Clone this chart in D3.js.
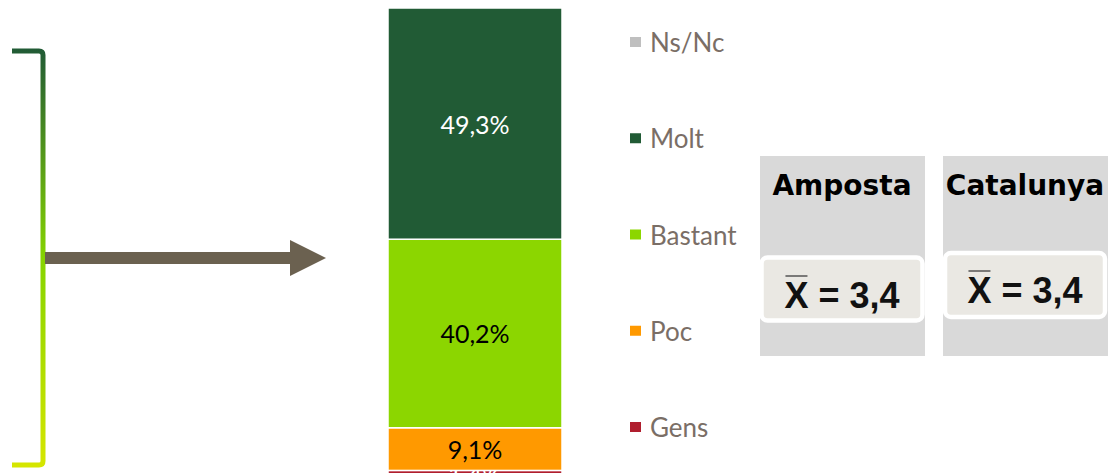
<!DOCTYPE html>
<html>
<head>
<meta charset="utf-8">
<script src="https://d3js.org/d3.v7.min.js"></script>
<style>
  body { margin: 0; background: #fff; overflow: hidden; }
  text { font-family: "Lato", "DejaVu Sans", sans-serif; }
</style>
</head>
<body>
<script>
// ---- data ----
var categories = ["Gens", "Poc", "Bastant", "Molt", "Ns/Nc"];   // bottom to top
var values     = [1.4, 9.1, 40.2, 49.3, 0];
var colors     = ["#b01e2e", "#ff9900", "#8cd600", "#215b35", "#bfbfbf"];
var labelColor = ["#ffffff", "#000000", "#000000", "#ffffff", "#000000"];
var legendOrder = ["Ns/Nc", "Molt", "Bastant", "Poc", "Gens"];
var places = ["Amposta", "Catalunya"];
var means  = ["3,4", "3,4"];

var width = 1109, height = 473;

var svg = d3.select("body").append("svg")
    .attr("width", width)
    .attr("height", height);

// gradient for the bracket
var defs = svg.append("defs");
var grad = defs.append("linearGradient")
    .attr("id", "brk").attr("gradientUnits", "userSpaceOnUse")
    .attr("x1", 0).attr("y1", 50).attr("x2", 0).attr("y2", 468);
grad.append("stop").attr("offset", "0%").attr("stop-color", "#215b35");
grad.append("stop").attr("offset", "50%").attr("stop-color", "#86d400");
grad.append("stop").attr("offset", "100%").attr("stop-color", "#d6e600");

// bracket
svg.append("path")
    .attr("d", "M12,51 L39,51 Q43,51 43,55 L43,461 Q43,465 39,465 L12,465")
    .attr("fill", "none")
    .attr("stroke", "url(#brk)")
    .attr("stroke-width", 5);

// arrow
svg.append("rect").attr("x", 45).attr("y", 252).attr("width", 247).attr("height", 12).attr("fill", "#6b6150");
svg.append("path").attr("d", "M290,240 L326,258 L290,276 Z").attr("fill", "#6b6150");

// ---- stacked bar ----
var rows = [{}];
categories.forEach(function(c, i) { rows[0][c] = values[i]; });
var stack = d3.stack().keys(categories)(rows);

var x = d3.scaleBand().domain(["total"]).range([388, 562]).padding(0);
var y = d3.scaleLinear().domain([0, 100]).range([477, 8]);

var seg = svg.append("g").selectAll("g")
    .data(stack)
    .join("g");

seg.append("rect")
    .attr("x", x("total"))
    .attr("width", x.bandwidth())
    .attr("y", function(d) { return y(d[0][1]); })
    .attr("height", function(d) { return Math.max(0, y(d[0][0]) - y(d[0][1])); })
    .attr("fill", function(d, i) { return colors[i]; })
    .attr("stroke", "#fff")
    .attr("stroke-width", function(d) { return d[0][1] - d[0][0] > 0 ? 1.5 : 0; });

seg.filter(function(d) { return d[0][1] - d[0][0] > 0; })
    .append("text")
    .attr("x", x("total") + x.bandwidth() / 2)
    .attr("y", function(d) { return (y(d[0][0]) + y(d[0][1])) / 2 + 10; })
    .attr("text-anchor", "middle")
    .attr("font-size", 25)
    .attr("fill", function(d, i) { return labelColor[i]; })
    .text(function(d) { return d3.format(".1f")(d[0][1] - d[0][0]).replace(".", ",") + "%"; });

// ---- legend ----
var ly = d3.scalePoint().domain(legendOrder).range([42, 427]);
var leg = svg.append("g").selectAll("g")
    .data(legendOrder)
    .join("g")
    .attr("transform", function(d) { return "translate(630," + ly(d) + ")"; });
leg.append("rect")
    .attr("x", 0).attr("y", -5).attr("width", 11).attr("height", 10)
    .attr("fill", function(d) { return colors[categories.indexOf(d)]; });
leg.append("text")
    .attr("x", 20).attr("y", 10)
    .attr("font-size", 26)
    .attr("fill", "#7a6e66")
    .text(function(d) { return d; });

// ---- mean boxes ----
var bx = d3.scaleOrdinal().domain(places).range([760, 943]);
var inner = [{x: 1.5, y: 101.5, w: 161, h: 63, base: 152}, {x: 2, y: 97, w: 160, h: 64, base: 147}];
var box = svg.append("g").selectAll("g")
    .data(places)
    .join("g")
    .attr("transform", function(d) { return "translate(" + bx(d) + ",156)"; });
box.append("rect")
    .attr("width", 165).attr("height", 200)
    .attr("fill", "#d9d9d9");
box.append("text")
    .attr("x", 82).attr("y", 39)
    .attr("text-anchor", "middle")
    .style("font-family", "'DejaVu Sans', sans-serif")
    .attr("font-size", 28).attr("font-weight", "bold")
    .attr("fill", "#000")
    .text(function(d) { return d; });
box.append("rect")
    .attr("x", function(d, i) { return inner[i].x; })
    .attr("y", function(d, i) { return inner[i].y; })
    .attr("width", function(d, i) { return inner[i].w; })
    .attr("height", function(d, i) { return inner[i].h; })
    .attr("rx", 6)
    .attr("fill", "#eae8e3")
    .attr("stroke", "#fff").attr("stroke-width", 4.5);
box.each(function(d, i) {
    var g = d3.select(this);
    var t = g.append("text")
        .attr("y", inner[i].base)
        .style("font-family", "'Liberation Sans', Arial, sans-serif")
        .attr("font-size", 36).attr("font-weight", "bold")
        .attr("fill", "#111")
        .text("X = " + means[i]);
    var w = t.node().getComputedTextLength();
    var x0 = inner[i].x + inner[i].w / 2 - w / 2;
    t.attr("x", x0);
    var xw = t.node().getSubStringLength(0, 1);
    // bar over the X (mean symbol)
    g.append("line")
        .attr("x1", x0 + 1).attr("x2", x0 + xw - 1)
        .attr("y1", inner[i].base - 32).attr("y2", inner[i].base - 32)
        .attr("stroke", "#555").attr("stroke-width", 1.5);
});
</script>
</body>
</html>
